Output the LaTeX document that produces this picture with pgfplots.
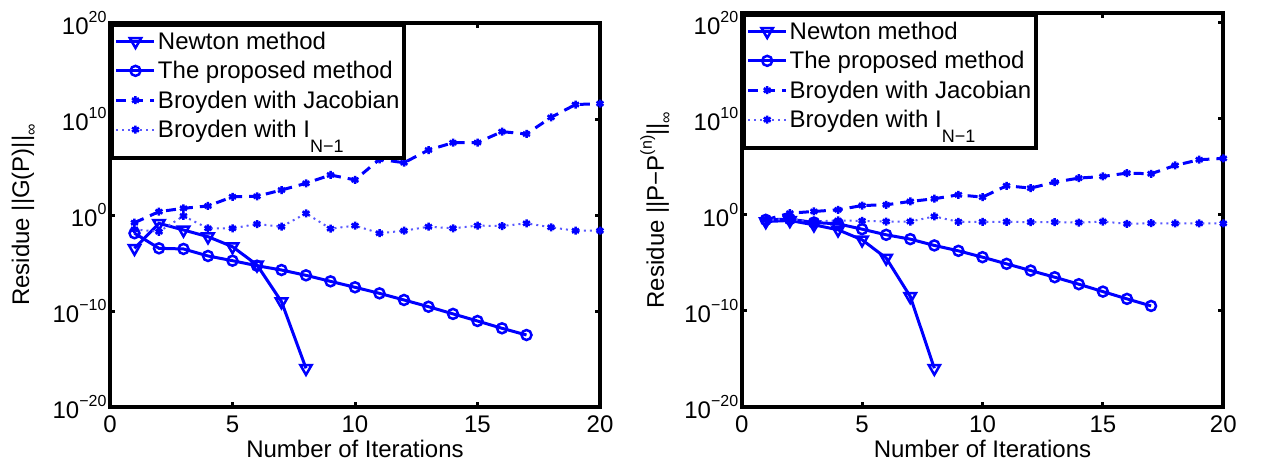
\documentclass[border=0pt]{standalone}
\usepackage{fontspec}
\setmainfont{Liberation Sans}
\usepackage{pgfplots}
\pgfplotsset{compat=1.18}
\newcommand{\sups}[1]{\raisebox{0.5em}{\fontsize{16}{16}\selectfont #1}}
\newcommand{\subs}[1]{\raisebox{-0.3em}{\fontsize{16}{16}\selectfont #1}}
\newcommand{\lsub}{\lower15pt\hbox{\fontsize{18}{18}\selectfont N−1}}

\pgfplotstableread{
x newton prop jac broy
1 3.39e-4 1.26e-2 0.158 0.032
2 0.135 3.39e-4 2.24 0.018
3 2.75e-2 2.9e-4 5.0 0.79
4 5.5e-3 5.4e-5 8.7 0.041
5 5.0e-4 1.74e-5 79 0.041
6 6.3e-6 5.2e-6 89 0.115
7 9.3e-10 1.86e-6 400 0.060
8 1.07e-16 5.2e-7 2000 1.48
9 nan 1.23e-7 1.48e4 0.038
10 nan 2.95e-8 4.5e3 0.078
11 nan 6.9e-9 6.3e5 0.0126
12 nan 1.41e-9 2.8e5 0.023
13 nan 2.8e-10 5.9e6 0.060
14 nan 5.0e-11 3.4e7 0.041
15 nan 9.1e-12 3.5e7 0.078
16 nan 1.58e-12 4.8e8 0.071
17 nan 3.16e-13 2.75e8 0.135
18 nan nan 1.48e10 0.052
19 nan nan 3.2e11 0.023
20 nan nan 4.0e11 0.023
}\lefttab

\pgfplotstableread{
x newton prop jac broy
1 0.2 0.30 0.30 0.30
2 0.257 0.355 1.48 0.355
3 0.091 0.158 2.24 0.2
4 0.0275 0.115 3.3 0.257
5 2.5e-3 0.032 9.3 0.234
6 3.16e-5 8.3e-3 11 0.2
7 3.16e-9 2.95e-3 24.5 0.2
8 1.07e-16 6.5e-4 47 0.68
9 nan 1.78e-4 120 0.186
10 nan 3.9e-5 69 0.186
11 nan 7.9e-6 1050 0.186
12 nan 1.58e-6 600 0.174
13 nan 3.2e-7 2500 0.174
14 nan 6.0e-8 6600 0.158
15 nan 1.02e-8 9800 0.2
16 nan 1.78e-9 2.2e4 0.115
17 nan 3.3e-10 1.86e4 0.135
18 nan nan 1.38e5 0.126
19 nan nan 5.4e5 0.126
20 nan nan 7.4e5 0.126
}\righttab

\pgfplotsset{
  mystyle/.style={
    scale only axis, xmin=0, xmax=20,
    xtick={0,5,10,15,20}, xticklabels={0,5,10,15,20},
    ytick={1e-20,1e-10,1,1e10,1e20},
    yticklabels={10\sups{−20},10\sups{−10},10\sups{0},10\sups{10},10\sups{20}},
    yminorticks=false,
    tick align=inside, major tick length=5pt,
    every tick/.style={black, line width=3pt},
    axis line style={line width=4pt},
    tick label style={font=\fontsize{24}{28}\selectfont},
    label style={font=\fontsize{24}{28}\selectfont},
    xticklabel style={yshift=-5pt},
    xlabel={Number of Iterations},
    xlabel style={yshift=-1pt},
    unbounded coords=jump,
    legend cell align=left,
    legend image code/.code={\draw[mark repeat=2,mark phase=2] plot coordinates {(0pt,0pt) (19pt,0pt) (38pt,0pt)};},
    legend style={at={(rel axis cs:0,1)}, anchor=north west, draw=black, line width=4pt,
      font=\fontsize{24}{28}\selectfont, inner xsep=3pt, inner ysep=5pt,
      nodes={inner sep=2pt}, row sep=6.5pt},
  },
  newton/.style={blue, line width=3pt, mark=triangle, mark size=6.5pt, mark options={solid, rotate=180, line width=2.5pt}},
  prop/.style={blue, line width=3pt, mark=o, mark size=5pt, mark options={solid, line width=2.5pt}},
  jac/.style={blue, line width=3pt, dash pattern=on 10pt off 7pt, mark=asterisk, mark size=4pt, mark options={solid, line width=2.5pt}},
  broy/.style={blue!65, line width=2pt, dash pattern=on 2pt off 4pt, mark=asterisk, mark size=4pt, mark options={solid, blue, line width=2.5pt}},
}

\begin{document}
\begin{tikzpicture}
\path[use as bounding box] (-110pt,-56pt) rectangle (1151pt,407pt);
\begin{axis}[ymode=log, mystyle, at={(0pt,0pt)}, anchor=south west,
  width=490pt, height=384pt, ymin=1e-20, ymax=1e20,
  ylabel={Residue ||G(P)||\subs{∞}},
  ylabel style={at={(axis description cs:-0.1755,0.5)}, anchor=center}]
\addplot[newton] table[x=x, y=newton] {\lefttab};
\addlegendentry{Newton method}
\addplot[prop] table[x=x, y=prop] {\lefttab};
\addlegendentry{The proposed method}
\addplot[jac] table[x=x, y=jac] {\lefttab};
\addlegendentry{Broyden with Jacobian}
\addplot[broy] table[x=x, y=broy] {\lefttab};
\addlegendentry{Broyden with I\lsub}
\addlegendimage{empty legend}
\addlegendentry{\rule{0pt}{0pt}}
\end{axis}
\begin{axis}[ymode=log, mystyle, at={(631.7pt,0pt)}, anchor=south west,
  width=481.6pt, height=394pt, ymin=1e-20, ymax=1e21,
  ylabel={Residue ||P−P\sups{(n)}||\subs{∞}},
  ylabel style={at={(axis description cs:-0.1786,0.5)}, anchor=center}]
\addplot[newton] table[x=x, y=newton] {\righttab};
\addlegendentry{Newton method}
\addplot[prop] table[x=x, y=prop] {\righttab};
\addlegendentry{The proposed method}
\addplot[jac] table[x=x, y=jac] {\righttab};
\addlegendentry{Broyden with Jacobian}
\addplot[broy] table[x=x, y=broy] {\righttab};
\addlegendentry{Broyden with I\lsub}
\addlegendimage{empty legend}
\addlegendentry{\rule{0pt}{0pt}}
\end{axis}
\end{tikzpicture}
\end{document}
